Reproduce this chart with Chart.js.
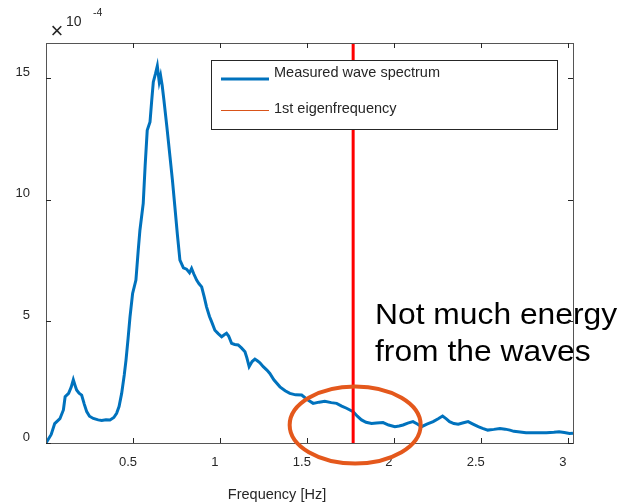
<!DOCTYPE html>
<html>
<head>
<meta charset="utf-8">
<script src="https://cdn.jsdelivr.net/npm/chart.js@4.4.1/dist/chart.umd.min.js"></script>
<style>
  body { margin: 0; background: #fff; }
  #wrap { width: 622px; height: 504px; }
</style>
</head>
<body>
<div id="wrap"><canvas id="chart" width="622" height="504"></canvas></div>
<script>
// frequency [Hz] and spectrum (x 10^-4)
const freq = [0.00, 0.03, 0.05, 0.08, 0.10, 0.11, 0.13, 0.145, 0.157, 0.168, 0.176, 0.19, 0.205, 0.22, 0.234, 0.25, 0.272, 0.30, 0.32, 0.345, 0.368, 0.39, 0.406, 0.42, 0.435, 0.45, 0.46, 0.472, 0.483, 0.498, 0.517, 0.53, 0.54, 0.559, 0.57, 0.582, 0.598, 0.608, 0.617, 0.63, 0.64, 0.651, 0.659, 0.668, 0.678, 0.695, 0.713, 0.727, 0.741, 0.755, 0.77, 0.79, 0.808, 0.825, 0.837, 0.85, 0.866, 0.88, 0.895, 0.91, 0.923, 0.94, 0.952, 0.971, 0.99, 1.01, 1.025, 1.038, 1.05, 1.067, 1.085, 1.105, 1.125, 1.144, 1.155, 1.168, 1.185, 1.201, 1.215, 1.23, 1.249, 1.27, 1.287, 1.31, 1.345, 1.375, 1.402, 1.435, 1.47, 1.50, 1.536, 1.57, 1.603, 1.64, 1.671, 1.70, 1.728, 1.766, 1.79, 1.814, 1.84, 1.872, 1.90, 1.938, 1.97, 2.006, 2.03, 2.053, 2.08, 2.11, 2.135, 2.159, 2.19, 2.226, 2.255, 2.28, 2.30, 2.32, 2.345, 2.37, 2.40, 2.427, 2.455, 2.485, 2.51, 2.54, 2.575, 2.61, 2.64, 2.667, 2.69, 2.714, 2.76, 2.82, 2.877, 2.92, 2.95, 2.98, 3.01, 3.03];
const spectrum = [0.00, 0.35, 0.80, 1.00, 1.36, 1.90, 2.04, 2.30, 2.60, 2.35, 2.18, 2.05, 1.97, 1.60, 1.29, 1.10, 1.01, 0.95, 0.93, 0.96, 0.95, 1.05, 1.22, 1.50, 2.04, 2.80, 3.41, 4.30, 5.19, 6.15, 6.70, 7.90, 8.75, 9.85, 11.4, 12.86, 13.2, 14.1, 14.85, 15.2, 15.5, 14.85, 15.1, 14.7, 14.1, 13.0, 11.77, 10.8, 9.71, 8.60, 7.52, 7.20, 7.15, 7.00, 7.18, 6.95, 6.70, 6.55, 6.42, 6.00, 5.60, 5.20, 4.99, 4.64, 4.50, 4.37, 4.45, 4.51, 4.40, 4.10, 4.05, 4.03, 3.90, 3.75, 3.50, 3.14, 3.35, 3.45, 3.38, 3.30, 3.14, 3.00, 2.86, 2.60, 2.31, 2.15, 2.04, 1.98, 1.97, 1.80, 1.63, 1.68, 1.72, 1.66, 1.63, 1.52, 1.43, 1.29, 1.10, 0.95, 0.85, 0.80, 0.82, 0.84, 0.74, 0.67, 0.70, 0.74, 0.82, 0.88, 0.78, 0.67, 0.78, 0.88, 1.00, 1.11, 1.00, 0.88, 0.80, 0.77, 0.83, 0.88, 0.78, 0.67, 0.60, 0.53, 0.56, 0.60, 0.57, 0.53, 0.48, 0.46, 0.42, 0.42, 0.42, 0.44, 0.46, 0.43, 0.39, 0.40];

const eigenFreq = 1.766;
const eigenY = [0, 16.45];

const xTicks = [0.5, 1, 1.5, 2, 2.5, 3];
const xTickLabels = ['0.5', '1', '1.5', '2', '2.5', '3'];
const yTicks = [0, 5, 10, 15];
const yTickLabels = ['0', '5', '10', '15'];

const legendLabels = ['Measured wave spectrum', '1st eigenfrequency'];
const noteLines = ['Not much energy', 'from the waves'];

const FONT = '"Liberation Sans", Arial, Helvetica, sans-serif';
const TEXT = '#262626';

const framePlugin = {
  id: 'frame',
  afterDatasetsDraw(chart) {
    const ctx = chart.ctx;
    // legend box
    const bx = 211, by = 60, bw = 346, bh = 69;
    ctx.save();
    ctx.fillStyle = '#fff';
    ctx.fillRect(bx, by, bw, bh);
    ctx.strokeStyle = '#262626';
    ctx.lineWidth = 1;
    ctx.strokeRect(bx + 0.5, by + 0.5, bw, bh);
    ctx.font = '14.5px ' + FONT;
    ctx.fillStyle = TEXT;
    ctx.textBaseline = 'alphabetic';
    ctx.fillText(legendLabels[0], 274, 77);
    ctx.fillText(legendLabels[1], 274, 112.5);
    ctx.strokeStyle = '#0072BD';
    ctx.lineWidth = 3;
    ctx.beginPath(); ctx.moveTo(221, 79); ctx.lineTo(269, 79); ctx.stroke();
    ctx.strokeStyle = '#D95319';
    ctx.lineWidth = 1;
    ctx.beginPath(); ctx.moveTo(221, 110.5); ctx.lineTo(269, 110.5); ctx.stroke();
    ctx.restore();
  },
  afterDraw(chart) {
    const ctx = chart.ctx;
    const a = chart.chartArea;
    const xs = chart.scales.x, ys = chart.scales.y;
    ctx.save();

    // annotation text
    ctx.save();
    ctx.translate(375, 0);
    ctx.scale(1.06, 1);
    ctx.font = '30px ' + FONT;
    ctx.fillStyle = '#000';
    ctx.textBaseline = 'alphabetic';
    ctx.fillText(noteLines[0], 0, 324);
    ctx.fillText(noteLines[1], 0, 361);
    ctx.restore();

    // axes box and inward ticks
    ctx.strokeStyle = '#555';
    ctx.lineWidth = 1;
    ctx.strokeRect(Math.round(a.left) + 0.5, Math.round(a.top) + 0.5,
      Math.round(a.right - a.left), Math.round(a.bottom - a.top));
    ctx.strokeStyle = '#262626';
    ctx.beginPath();
    xTicks.forEach(v => {
      const px = Math.round(xs.getPixelForValue(v)) + 0.5;
      ctx.moveTo(px, a.bottom); ctx.lineTo(px, a.bottom - 5);
      ctx.moveTo(px, a.top); ctx.lineTo(px, a.top + 5);
    });
    yTicks.forEach(v => {
      const py = Math.round(ys.getPixelForValue(v)) + 0.5;
      ctx.moveTo(a.left, py); ctx.lineTo(a.left + 5, py);
      ctx.moveTo(a.right, py); ctx.lineTo(a.right - 5, py);
    });
    ctx.stroke();

    // x 10^-4 exponent
    ctx.fillStyle = TEXT;
    ctx.textBaseline = 'middle';
    ctx.font = '22px ' + FONT;
    ctx.textAlign = 'center';
    ctx.fillText('\u00d7', 57, 32);
    ctx.textAlign = 'left';
    ctx.font = '14px ' + FONT;
    ctx.fillText('10', 66, 22);
    ctx.font = '10.5px ' + FONT;
    ctx.fillText('-4', 93, 13);

    // x axis title
    ctx.font = '14.5px ' + FONT;
    ctx.textAlign = 'center';
    ctx.fillText('Frequency [Hz]', 277, 495);

    // highlight ellipse
    ctx.strokeStyle = '#E4581C';
    ctx.lineWidth = 4;
    ctx.beginPath();
    ctx.ellipse(xs.getPixelForValue(eigenFreq) + 2, 425, 65.5, 38.5, 0, 0, Math.PI * 2);
    ctx.stroke();
    ctx.restore();
  }
};

const config = {
  type: 'line',
  data: {
    datasets: [
      {
        label: legendLabels[0],
        data: freq.map((f, i) => ({ x: f, y: spectrum[i] })),
        borderColor: '#0072BD',
        borderWidth: 3,
        pointRadius: 0,
        tension: 0,
        order: 2
      },
      {
        label: legendLabels[1],
        data: eigenY.map(v => ({ x: eigenFreq, y: v })),
        borderColor: '#FF0000',
        borderWidth: 3,
        pointRadius: 0,
        order: 1
      }
    ]
  },
  options: {
    responsive: false,
    animation: false,
    layout: { padding: { top: 43, right: 49, left: 0, bottom: 0 } },
    plugins: { legend: { display: false }, tooltip: { enabled: false } },
    scales: {
      x: {
        type: 'linear',
        min: 0,
        max: 3.03,
        grid: { display: false },
        border: { display: false },
        afterBuildTicks: s => { s.ticks = xTicks.map(v => ({ value: v })); },
        afterFit: s => { s.height = 61; },
        ticks: {
          maxRotation: 0,
          padding: 4,
          labelOffset: -5,
          color: TEXT,
          font: { family: FONT, size: 13 },
          callback: v => xTickLabels[xTicks.indexOf(v)]
        }
      },
      y: {
        min: 0,
        max: 16.45,
        grid: { display: false },
        border: { display: false },
        afterBuildTicks: s => { s.ticks = yTicks.map(v => ({ value: v })); },
        afterFit: s => { s.width = 46; },
        ticks: {
          padding: 8,
          labelOffset: -6,
          color: TEXT,
          font: { family: FONT, size: 13 },
          callback: v => yTickLabels[yTicks.indexOf(v)]
        }
      }
    }
  },
  plugins: [framePlugin]
};

new Chart(document.getElementById('chart'), config);
</script>
</body>
</html>
